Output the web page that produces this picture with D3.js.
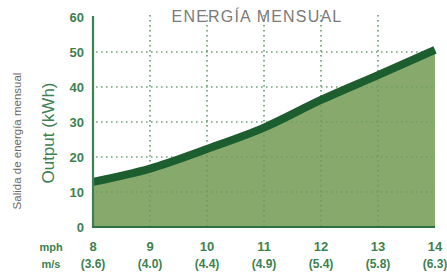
<!DOCTYPE html>
<html><head><meta charset="utf-8">
<script src="https://cdn.jsdelivr.net/npm/d3@7"></script>
<style>body{margin:0;background:#fff}svg{display:block}</style>
</head><body>
<svg id="c" width="447" height="272"></svg>
<script>
const mph = [8, 9, 10, 11, 12, 13, 14];
const ms = ["(3.6)", "(4.0)", "(4.4)", "(4.9)", "(5.4)", "(5.8)", "(6.3)"];
const output = [12.9, 16.7, 22.3, 28.4, 36.3, 43.4, 50.6];
const yTicks = [0, 10, 20, 30, 40, 50, 60];
const title = "ENERGÍA MENSUAL";
const yLabel = "Output (kWh)";
const yLabel2 = "Salida de energía mensual";

const svg = d3.select("#c");
const x = d3.scaleLinear().domain([8, 14]).range([93, 435]);
const y = d3.scaleLinear().domain([0, 60]).range([227, 17]);
const green = "#3d8150", dark = "#1d5e2f", fill = "#87aa6c";
const data = mph.map((m, i) => ({m, v: output[i]}));
const font = "Liberation Sans, Arial, sans-serif";

function grid(sel, color, op) {
  sel.append("g").selectAll("line").data(yTicks.filter(t => t > 0 && t < 60)).join("line")
    .attr("x1", x(8) + 3).attr("x2", x(14)).attr("y1", d => y(d)).attr("y2", d => y(d))
    .attr("stroke", color).attr("stroke-width", 1.2).attr("stroke-dasharray", "1.5,3.5").attr("opacity", op);
  sel.append("g").selectAll("line").data(mph.filter(m => m > 8 && m < 14)).join("line")
    .attr("x1", d => x(d)).attr("x2", d => x(d)).attr("y1", y(60) - 2).attr("y2", y(0))
    .attr("stroke", color).attr("stroke-width", 1.2).attr("stroke-dasharray", "1.5,3.5").attr("opacity", op);
}
grid(svg, "#6aa077", 1);

const area = d3.area().x(d => x(d.m)).y0(y(0)).y1(d => y(d.v)).curve(d3.curveMonotoneX);
svg.append("path").datum(data).attr("d", area).attr("fill", fill);
grid(svg, "#4f8a55", 0.6);

const line = d3.line().x(d => x(d.m)).y(d => y(d.v)).curve(d3.curveMonotoneX);
svg.append("path").datum(data).attr("d", line).attr("fill", "none")
  .attr("stroke", dark).attr("stroke-width", 8);

svg.append("line").attr("x1", x(8)).attr("x2", x(8)).attr("y1", y(60) - 1).attr("y2", y(0) + 1)
  .attr("stroke", green).attr("stroke-width", 2.2);
svg.append("line").attr("x1", x(8)).attr("x2", x(14)).attr("y1", y(0)).attr("y2", y(0))
  .attr("stroke", "#2f7040").attr("stroke-width", 2.2);

svg.append("g").selectAll("text").data(yTicks).join("text")
  .attr("x", 84).attr("y", d => y(d) + 5).attr("text-anchor", "end")
  .attr("font-family", font).attr("font-weight", "bold")
  .attr("font-size", 13).attr("fill", green).text(d => d);

const xl = svg.append("g").attr("font-family", font)
  .attr("font-weight", "bold").attr("fill", green).attr("text-anchor", "middle");
xl.selectAll("text.a").data(mph).join("text").attr("class", "a")
  .attr("x", d => x(d)).attr("y", 251).attr("font-size", 13).text(d => d);
xl.selectAll("text.b").data(mph).join("text").attr("class", "b")
  .attr("x", d => x(d)).attr("y", 268).attr("font-size", 12).text((d, i) => ms[i]);
xl.append("text").attr("x", 51).attr("y", 251).attr("font-size", 11).text("mph");
xl.append("text").attr("x", 51).attr("y", 268).attr("font-size", 11).text("m/s");

svg.append("text").attr("x", 257).attr("y", 21.5).attr("text-anchor", "middle")
  .attr("font-family", font).attr("font-size", 16).attr("letter-spacing", 1.2)
  .attr("fill", "#7a7a7a").text(title);

svg.append("text").attr("transform", "translate(54,133) rotate(-90)").attr("text-anchor", "middle")
  .attr("font-family", font).attr("font-size", 17)
  .attr("fill", green).text(yLabel);
svg.append("text").attr("transform", "translate(21,141) rotate(-90)").attr("text-anchor", "middle")
  .attr("font-family", font).attr("font-size", 11.5)
  .attr("fill", "#6a6a6a").text(yLabel2);
</script>
</body></html>
